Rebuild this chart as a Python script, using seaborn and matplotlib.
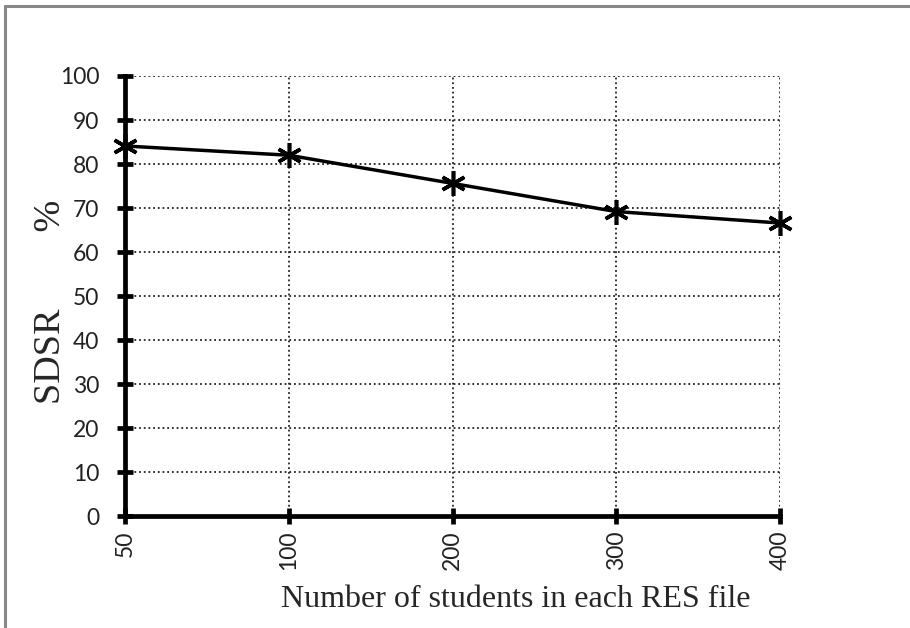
import matplotlib
matplotlib.use("Agg")
import matplotlib.pyplot as plt
from matplotlib.lines import Line2D
import seaborn as sns
import pandas as pd

# data
students = ["50", "100", "200", "300", "400"]
sdsr = [84.1, 82.0, 75.6, 69.2, 66.6]
y_ticks = [0, 10, 20, 30, 40, 50, 60, 70, 80, 90, 100]

df = pd.DataFrame({"students": students, "sdsr": sdsr})

sns.set_style("white")
plt.rcParams["font.family"] = ["Lato", "DejaVu Sans"]

fig = plt.figure(figsize=(9.1, 6.28), dpi=100)
ax = fig.add_axes([0.1374, 0.178, 0.7198, 0.701])

sns.lineplot(data=df, x="students", y="sdsr", ax=ax, color="black",
             linewidth=2.5, marker=(6, 2, 0), markersize=18,
             markeredgewidth=2.6, markeredgecolor="black", sort=False,
             clip_on=False, zorder=5)

ax.set_xlim(0, 4)
ax.set_ylim(0, 100)
ax.set_yticks(y_ticks)
ax.set_xticks(range(len(students)))
ax.set_xticklabels(students, rotation=90)

ax.grid(True, linestyle=(0, (1, 1.6)), color="#222222", linewidth=1.3)
for side in ["top", "right"]:
    ax.spines[side].set_visible(False)
for side in ["left", "bottom"]:
    ax.spines[side].set_linewidth(3.4)
    ax.spines[side].set_color("black")
    ax.spines[side].set_zorder(4)

ax.tick_params(axis="both", direction="inout", length=11, width=3.4,
               color="black", labelsize=16.5, labelcolor="#222222",
               bottom=True, left=True)
ax.tick_params(axis="x", pad=5)
ax.tick_params(axis="y", pad=13)

ax.set_xlabel("Number of students in each RES file", family=["Liberation Serif"],
              fontsize=23)
ax.xaxis.set_label_coords(0.597, -0.156)
ax.set_ylabel("SDSR        %", family=["Liberation Serif"], fontsize=27.5)
ax.yaxis.set_label_coords(-0.087, 0.4875)

# grey frame on top and left edges
fig.add_artist(Line2D([0.006, 1.0], [0.991, 0.991], color="#888888", linewidth=2.2))
fig.add_artist(Line2D([0.006, 0.006], [0.0, 0.991], color="#888888", linewidth=2.2))

fig.savefig("out.png", dpi=100)
